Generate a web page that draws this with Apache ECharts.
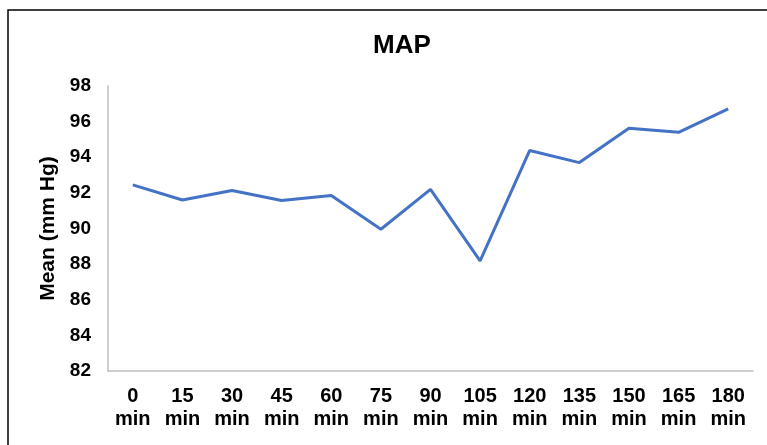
<!DOCTYPE html>
<html>
<head>
<meta charset="utf-8">
<script src="https://cdn.jsdelivr.net/npm/echarts@6/dist/echarts.min.js"></script>
<style>
html,body{margin:0;padding:0;background:#fff;}
#chart{width:767px;height:445px;}
</style>
</head>
<body>
<div id="chart"></div>
<script>
const categories = ['0\nmin','15\nmin','30\nmin','45\nmin','60\nmin','75\nmin','90\nmin','105\nmin','120\nmin','135\nmin','150\nmin','165\nmin','180\nmin'];
const mapValues = [92.45, 91.6, 92.13, 91.57, 91.85, 89.96, 92.2, 88.18, 94.38, 93.7, 95.63, 95.4, 96.72];
const yTicks = {min: 82, max: 98, step: 2};
const chartTitle = 'MAP';
const yAxisTitle = 'Mean (mm Hg)';

const chart = echarts.init(document.getElementById('chart'), null, {renderer: 'canvas'});
const font = 'Liberation Sans, Arial, sans-serif';
chart.setOption({
  animation: false,
  backgroundColor: '#fff',
  graphic: [{
    type: 'rect',
    shape: {x: 8, y: 10, width: 800, height: 500},
    style: {fill: 'none', stroke: '#000', lineWidth: 1.5},
    silent: true
  }],
  title: {
    text: chartTitle,
    left: 397, top: 28, textAlign: 'center',
    textStyle: {fontFamily: font, fontWeight: 'bold', fontSize: 26, color: '#000'}
  },
  grid: {left: 108, right: 14, top: 86, bottom: 74, containLabel: false},
  xAxis: {
    type: 'category',
    data: categories,
    boundaryGap: true,
    axisLine: {lineStyle: {color: '#bfbfbf', width: 1.5}},
    axisTick: {show: false},
    axisLabel: {fontFamily: font, fontWeight: 'bold', fontSize: 20, color: '#000', lineHeight: 23, margin: 14, interval: 0}
  },
  yAxis: {
    type: 'value',
    min: yTicks.min, max: yTicks.max, interval: yTicks.step,
    name: yAxisTitle,
    nameLocation: 'middle',
    nameGap: 46,
    nameRotate: 90,
    nameTextStyle: {fontFamily: font, fontWeight: 'bold', fontSize: 21, color: '#000'},
    axisLine: {show: true, lineStyle: {color: '#bfbfbf', width: 1.5}},
    axisTick: {show: false},
    splitLine: {show: false},
    axisLabel: {fontFamily: font, fontWeight: 'bold', fontSize: 19, color: '#000', margin: 17}
  },
  series: [{
    type: 'line',
    data: mapValues,
    showSymbol: false,
    symbol: 'none',
    lineStyle: {color: '#4472C4', width: 3},
    itemStyle: {color: '#4472C4'}
  }]
});
</script>
</body>
</html>
